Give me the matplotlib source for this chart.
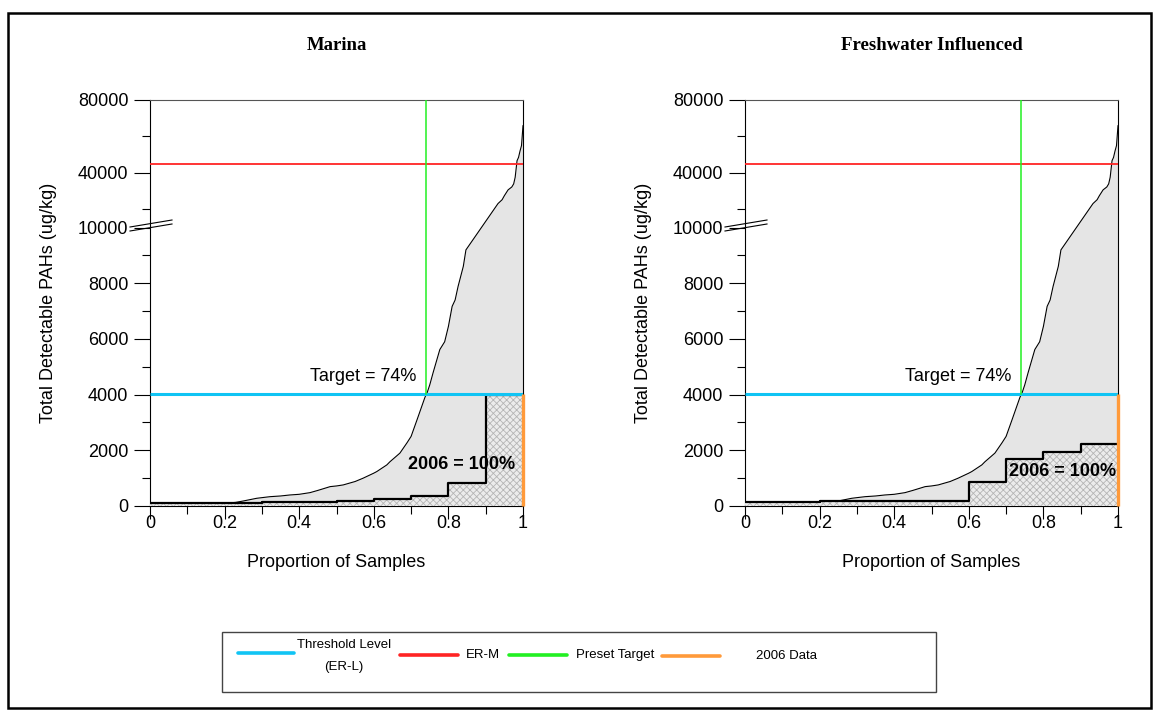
import numpy as np
import matplotlib
matplotlib.use("Agg")
import matplotlib.pyplot as plt
from matplotlib.lines import Line2D
from matplotlib.patches import Rectangle
from matplotlib.ticker import FixedLocator, FixedFormatter

plt.rcParams["font.family"] = ["Liberation Sans", "DejaVu Sans"]
plt.rcParams["hatch.linewidth"] = 0.6
plt.rcParams["hatch.color"] = "#b8b8b8"

# Historical cumulative distribution of total detectable PAHs (shared by both panels)
hist_prop = [0.0, 0.05, 0.1, 0.15, 0.2, 0.23, 0.25, 0.286, 0.3, 0.322, 0.35, 0.375, 0.4,
             0.429, 0.45, 0.483, 0.5, 0.518, 0.55, 0.571, 0.6, 0.608, 0.635, 0.643, 0.67,
             0.689, 0.7, 0.716, 0.737, 0.743, 0.75, 0.759, 0.777, 0.79, 0.80, 0.81, 0.818,
             0.826, 0.84, 0.847, 0.933, 0.944, 0.95, 0.960, 0.970, 0.975, 0.979, 0.984,
             0.988, 0.992, 0.996, 1.0]
hist_pahs = [55, 65, 75, 85, 95, 130, 180, 277, 300, 335, 360, 396, 420,
             480, 560, 696, 720, 757, 880, 997, 1180, 1237, 1477, 1586, 1900,
             2270, 2500, 3100, 3900, 4070, 4350, 4790, 5620, 5900, 6450, 7170, 7400,
             7890, 8610, 9200, 23200, 25300, 27500, 30700, 32300, 34000, 37600, 46700,
             48500, 52000, 55000, 65900]

# 2006 survey results, one step per sample
marina_prop = [0.0, 0.1, 0.2, 0.3, 0.4, 0.5, 0.6, 0.7, 0.8, 0.9, 1.0]
marina_pahs = [90, 110, 120, 140, 150, 170, 240, 360, 817, 3970]

fresh_prop = [0.0, 0.1, 0.2, 0.3, 0.4, 0.5, 0.6, 0.7, 0.8, 0.9, 1.0]
fresh_pahs = [150, 150, 170, 170, 170, 170, 876, 1683, 1946, 2210]

panel_titles = ["Marina", "Freshwater Influenced"]
panel_steps = [(marina_prop, marina_pahs), (fresh_prop, fresh_pahs)]
step_label_pos = [(0.835, 1476), (0.851, 1242)]

erl = 4022        # threshold level (ER-L)
erm = 44792       # ER-M
target = 0.74     # preset target proportion

y_major = [0, 2000, 4000, 6000, 8000, 10000, 40000, 80000]
y_major_labels = ["0", "2000", "4000", "6000", "8000", "10000", "40000", "80000"]
y_minor = [1000, 3000, 5000, 7000, 9000, 20000, 60000]
x_major = [0, 0.2, 0.4, 0.6, 0.8, 1.0]
x_major_labels = ["0", "0.2", "0.4", "0.6", "0.8", "1"]
x_minor = [0.1, 0.3, 0.5, 0.7, 0.9]

# Broken y scale: linear up to 10000, compressed above
BREAK = 10000.0
R = 0.0655


def fwd(v):
    v = np.asarray(v, dtype=float)
    return np.where(v <= BREAK, v, BREAK + (v - BREAK) * R)


def inv(u):
    u = np.asarray(u, dtype=float)
    return np.where(u <= BREAK, u, BREAK + (u - BREAK) / R)


W, H = 1154, 711
fig = plt.figure(figsize=(W / 100, H / 100), dpi=100)


def fx(px):
    return px / W


def fy(py):
    return 1 - py / H


CYAN = "#10c4f4"
RED = "#ff2424"
GREEN = "#22f022"
ORANGE = "#ff9a3a"

axes_left_px = [150, 745]
for i, left_px in enumerate(axes_left_px):
    ax = fig.add_axes([fx(left_px), fy(506), 373 / W, 406 / H])
    ax.set_yscale("function", functions=(fwd, inv))
    ax.set_xlim(0, 1)
    ax.set_ylim(0, 80000)

    # historical distribution
    ax.fill_between(hist_prop, 0, hist_pahs, color="#e5e5e5", lw=0, zorder=1)
    ax.plot(hist_prop, hist_pahs, color="black", lw=0.8, zorder=2)

    # 2006 data as a step function
    sp, sv = panel_steps[i]
    sv_full = list(sv) + [sv[-1]]
    ax.fill_between(sp, 0, sv_full, step="post", facecolor="#ececec",
                    edgecolor="#b5b5b5", hatch="xxxxx", lw=0, zorder=3)
    ax.step(sp, sv_full, where="post", color="black", lw=1.6, zorder=4)

    # reference lines
    ax.plot([0, 1], [erl, erl], color=CYAN, lw=2.2, zorder=5, solid_capstyle="butt")
    ax.plot([0, 1], [erm, erm], color=RED, lw=1.3, zorder=5)
    ax.plot([target, target], [erl, 80000], color=GREEN, lw=1.1, zorder=5)
    ax.plot([1, 1], [0, erl], color=ORANGE, lw=2.4, zorder=6, clip_on=False,
            solid_capstyle="butt")

    ax.text(0.715, 4650, "Target = 74%", ha="right", va="center", fontsize=13, zorder=7)
    lx, ly = step_label_pos[i]
    ax.text(lx, ly, "2006 = 100%", ha="center", va="center", fontsize=13,
            fontweight="bold", zorder=7)

    ax.yaxis.set_major_locator(FixedLocator(y_major))
    ax.yaxis.set_major_formatter(FixedFormatter(y_major_labels))
    ax.yaxis.set_minor_locator(FixedLocator(y_minor))
    ax.xaxis.set_major_locator(FixedLocator(x_major))
    ax.xaxis.set_major_formatter(FixedFormatter(x_major_labels))
    ax.xaxis.set_minor_locator(FixedLocator(x_minor))
    ax.yaxis.set_minor_formatter(FixedFormatter([""] * len(y_minor)))
    ax.tick_params(axis="y", which="major", direction="out", length=11.5, width=0.8,
                   labelsize=13, pad=4)
    ax.tick_params(axis="y", which="minor", direction="out", length=5.5, width=0.8)
    ax.tick_params(axis="x", which="major", direction="out", length=9.5, width=0.8,
                   labelsize=13, pad=-3)
    ax.tick_params(axis="x", which="minor", direction="out", length=5.5, width=0.8)

    for s in ["left", "bottom", "right"]:
        ax.spines[s].set_color("black")
        ax.spines[s].set_linewidth(0.8)
    ax.spines["top"].set_color("#555555")
    ax.spines["top"].set_linewidth(0.8)

    ax.set_xlabel("Proportion of Samples", fontsize=13, labelpad=16)
    ax.set_ylabel("Total Detectable PAHs (ug/kg)", fontsize=13, labelpad=15)
    ax.text(0.5, 1.0 + 50 / 406, panel_titles[i], transform=ax.transAxes,
            ha="center", va="baseline", fontsize=13.5, fontweight="bold",
            family=["Liberation Serif", "DejaVu Serif"])

    # axis break marks
    for dy in (0, 4):
        fig.add_artist(Line2D([fx(left_px - 20), fx(left_px + 22)],
                              [fy(227 + dy), fy(220 + dy)], color="black", lw=0.8))

# legend
fig.add_artist(Rectangle((fx(222), fy(692)), (936 - 222) / W, (692 - 632) / H,
                         transform=fig.transFigure, fill=False, edgecolor="#444444", lw=1))
legend_items = [
    (CYAN, 238, 294, 653, "Threshold Level\n(ER-L)", 344),
    (RED, 400, 458, 655, "ER-M", 483),
    (GREEN, 509, 567, 655, "Preset Target", 615),
    (ORANGE, 662, 720, 656, "2006 Data", 786),
]
for color, x0, x1, yy, label, tx in legend_items:
    fig.add_artist(Line2D([fx(x0), fx(x1)], [fy(yy), fy(yy)], color=color, lw=2.6,
                          solid_capstyle="round"))
    ty = 656 if "\n" in label else yy
    fig.text(fx(tx), fy(ty), label, ha="center", va="center", fontsize=9.5,
             linespacing=2.05)

# outer frame
fig.add_artist(Rectangle((fx(8), fy(708)), (1151 - 8) / W, (708 - 13) / H,
                         transform=fig.transFigure, fill=False, edgecolor="black", lw=1.8))

fig.savefig("out.png", dpi=100, facecolor="white")
